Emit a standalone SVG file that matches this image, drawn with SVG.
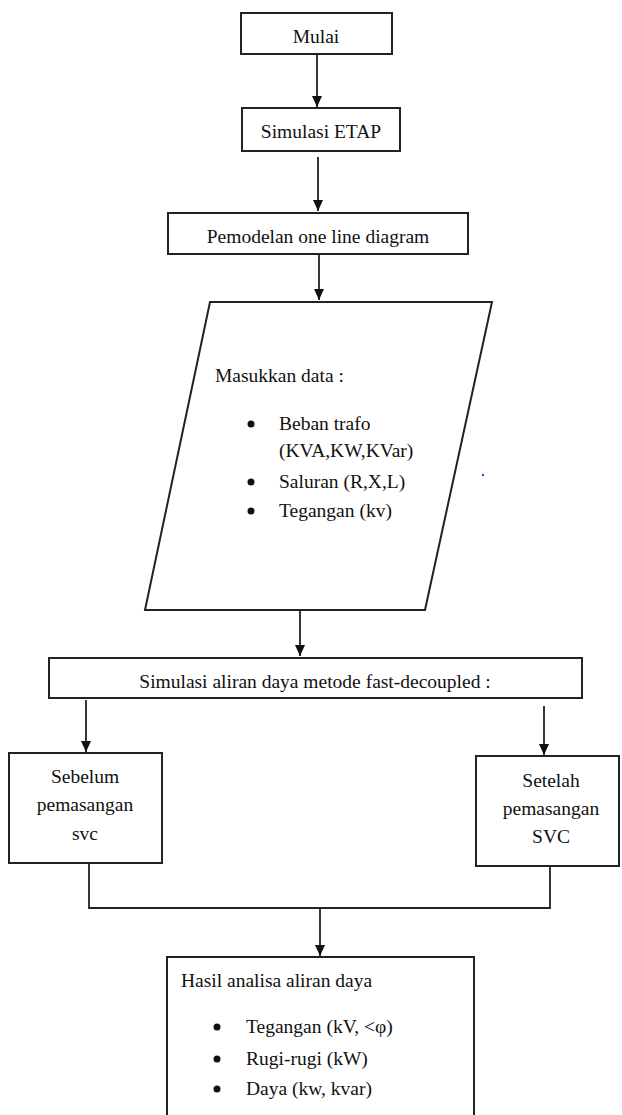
<svg xmlns="http://www.w3.org/2000/svg" width="622" height="1115" viewBox="0 0 622 1115">
<defs>
<style>
.box{fill:#fff;stroke:#222;stroke-width:2}
.t{font-family:'Liberation Serif','Times New Roman','DejaVu Serif',serif;font-size:19.5px;fill:#111}
.c{text-anchor:middle}
.ln{fill:none;stroke:#222;stroke-width:1.8}
.dot{fill:#111}
</style>
<marker id="arr" markerUnits="userSpaceOnUse" markerWidth="12" markerHeight="12" viewBox="0 0 12 12" refX="11" refY="6" orient="auto">
<path d="M0,1 L11,6 L0,11 Z" fill="#111"/>
</marker>
</defs>
<rect width="622" height="1115" fill="#fff"/>

<g id="connectors">
<line class="ln" x1="317" y1="55" x2="317" y2="107" marker-end="url(#arr)"/>
<line class="ln" x1="318" y1="157" x2="318" y2="211" marker-end="url(#arr)"/>
<line class="ln" x1="319" y1="255" x2="319" y2="300" marker-end="url(#arr)"/>
<line class="ln" x1="300" y1="605" x2="300" y2="656" marker-end="url(#arr)"/>
<line class="ln" x1="86" y1="700" x2="86" y2="752" marker-end="url(#arr)"/>
<line class="ln" x1="544" y1="706" x2="544" y2="755" marker-end="url(#arr)"/>
<polyline class="ln" points="89,864 89,908 550,908 550,863"/>
<line class="ln" x1="320" y1="908" x2="320" y2="956" marker-end="url(#arr)"/>
</g>

<g font-family="Liberation Serif, Times New Roman, serif">
<g id="mulai">
<rect class="box" x="241" y="13" width="151" height="41"/>
<text class="t c" x="316" y="43">Mulai</text>
</g>

<g id="etap">
<rect class="box" x="242" y="108" width="158" height="43"/>
<text class="t c" x="321" y="138">Simulasi ETAP</text>
</g>

<g id="pemodelan">
<rect class="box" x="168" y="213" width="300" height="41"/>
<text class="t c" x="318" y="243">Pemodelan one line diagram</text>
</g>

<g id="input">
<polygon class="box" points="210,302 492,302 425,610 145,610"/>
<text class="t" x="215" y="382">Masukkan data :</text>
<circle class="dot" cx="251" cy="424" r="3.5"/>
<text class="t" x="279" y="430">Beban trafo</text>
<text class="t" x="279" y="457">(KVA,KW,KVar)</text>
<circle class="dot" cx="251" cy="482" r="3.5"/>
<text class="t" x="279" y="488">Saluran (R,X,L)</text>
<circle class="dot" cx="251" cy="511" r="3.5"/>
<text class="t" x="279" y="517">Tegangan (kv)</text>
<circle cx="483" cy="475" r="1.2" fill="#3344dd"/>
</g>

<g id="simulasi-aliran">
<rect class="box" x="49" y="658" width="533" height="40"/>
<text class="t c" x="315" y="688">Simulasi aliran daya metode fast-decoupled :</text>
</g>

<g id="sebelum">
<rect class="box" x="9" y="753" width="153" height="110"/>
<text class="t c" x="85" y="783">Sebelum</text>
<text class="t c" x="85" y="811">pemasangan</text>
<text class="t c" x="85" y="840">svc</text>
</g>

<g id="setelah">
<rect class="box" x="476" y="756" width="143" height="110"/>
<text class="t c" x="551" y="787">Setelah</text>
<text class="t c" x="551" y="815">pemasangan</text>
<text class="t c" x="551" y="843">SVC</text>
</g>

<g id="hasil">
<rect class="box" x="167" y="957" width="307" height="170"/>
<text class="t" x="181" y="987">Hasil analisa aliran daya</text>
<circle class="dot" cx="217" cy="1027" r="3.5"/>
<text class="t" x="246" y="1033">Tegangan (kV, &lt;φ)</text>
<circle class="dot" cx="217" cy="1059" r="3.5"/>
<text class="t" x="246" y="1065">Rugi-rugi (kW)</text>
<circle class="dot" cx="217" cy="1089" r="3.5"/>
<text class="t" x="246" y="1095">Daya (kw, kvar)</text>
</g>
</g>
</svg>
